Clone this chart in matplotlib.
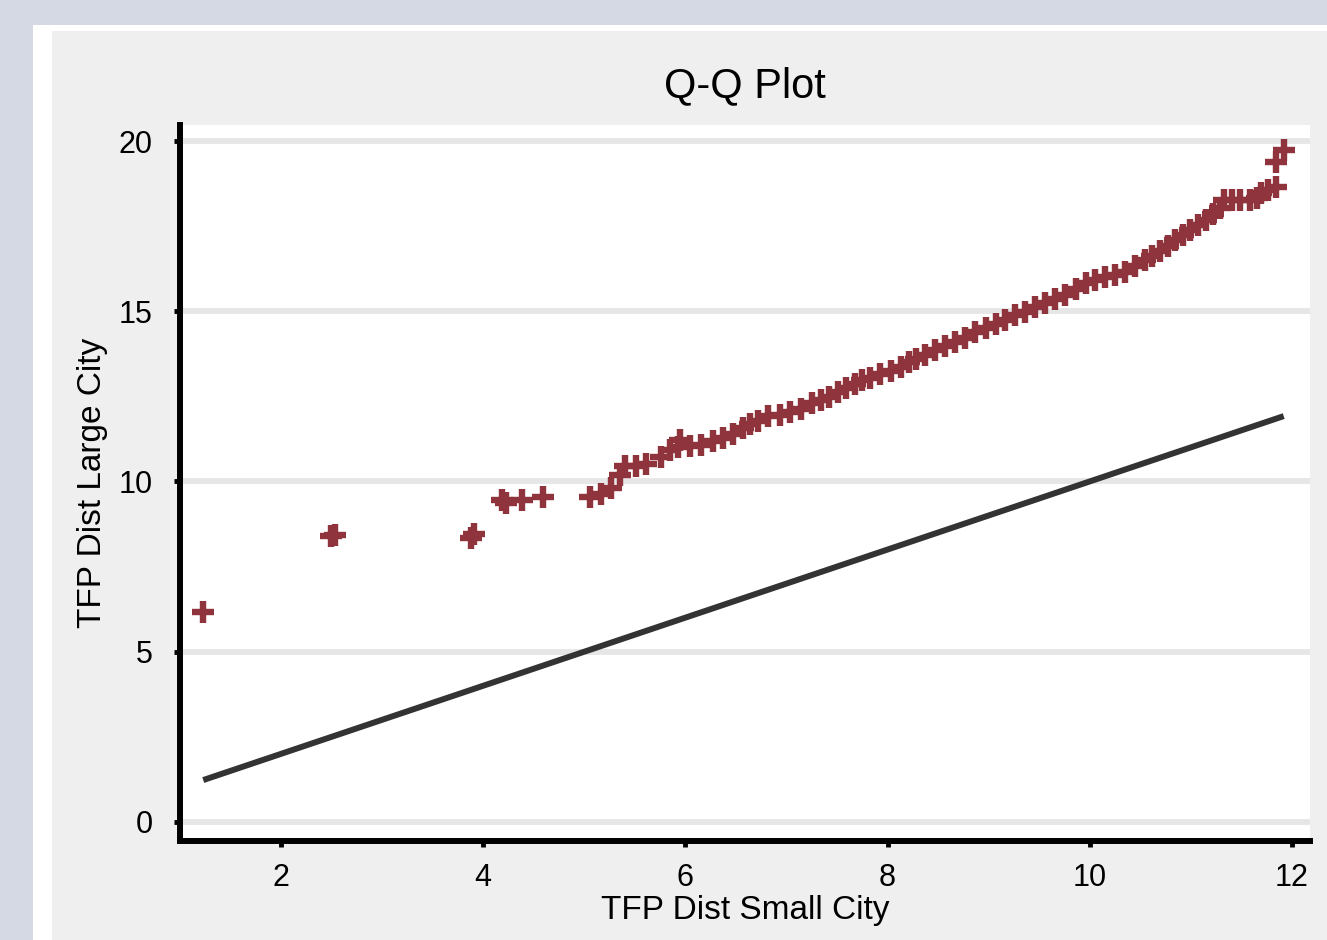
import numpy as np
import matplotlib.pyplot as plt
from matplotlib.patches import Rectangle

# Quantile pairs: TFP distribution of small cities (x) vs large cities (y)
small_city_q = np.array([
    1.23, 2.49, 2.53, 3.88, 3.91, 4.19, 4.23, 4.38, 4.59, 5.06,
    5.17, 5.26, 5.35, 5.40, 5.51, 5.61, 5.76, 5.85, 5.93, 5.95,
    6.05, 6.15, 6.27, 6.37, 6.47, 6.57, 6.64, 6.72, 6.82, 6.94,
    7.04, 7.14, 7.25, 7.34, 7.42, 7.51, 7.59, 7.68, 7.75, 7.83,
    7.93, 8.03, 8.13, 8.21, 8.28, 8.37, 8.47, 8.57, 8.67, 8.77,
    8.87, 8.97, 9.07, 9.16, 9.26, 9.36, 9.46, 9.56, 9.66, 9.76,
    9.86, 9.96, 10.05, 10.15, 10.25, 10.35, 10.45, 10.55, 10.62, 10.70,
    10.78, 10.84, 10.92, 10.99, 11.07, 11.15, 11.22, 11.29, 11.33, 11.41,
    11.49, 11.59, 11.66, 11.70, 11.76, 11.84, 11.84, 11.92,
])
large_city_q = np.array([
    6.17, 8.40, 8.43, 8.34, 8.46, 9.45, 9.37, 9.45, 9.54, 9.54,
    9.63, 9.81, 10.19, 10.45, 10.45, 10.50, 10.72, 10.92, 11.01, 11.22,
    11.04, 11.06, 11.19, 11.27, 11.39, 11.57, 11.69, 11.77, 11.92, 11.95,
    12.04, 12.13, 12.30, 12.39, 12.48, 12.62, 12.74, 12.86, 12.98, 13.04,
    13.15, 13.24, 13.36, 13.51, 13.59, 13.71, 13.86, 13.98, 14.09, 14.21,
    14.39, 14.50, 14.62, 14.74, 14.89, 14.97, 15.12, 15.24, 15.36, 15.47,
    15.65, 15.83, 15.91, 16.00, 16.06, 16.15, 16.32, 16.50, 16.62, 16.76,
    16.91, 17.09, 17.23, 17.38, 17.53, 17.67, 17.85, 18.03, 18.26, 18.26,
    18.26, 18.26, 18.32, 18.47, 18.56, 18.64, 19.38, 19.73,
])

x_ticks = [2, 4, 6, 8, 10, 12]
y_ticks = [0, 5, 10, 15, 20]

plt.rcParams['font.family'] = ['Liberation Sans', 'DejaVu Sans']

fig = plt.figure(figsize=(13.27, 9.40), dpi=100)
fig.patch.set_facecolor('#d5d9e3')

# white frame and grey panel behind the chart
fig.add_artist(Rectangle((33 / 1327, 0), 1, 1 - 25 / 940, transform=fig.transFigure,
                         facecolor='white', edgecolor='none', zorder=-2))
fig.add_artist(Rectangle((52 / 1327, 0), 1, 1 - 31 / 940, transform=fig.transFigure,
                         facecolor='#efefef', edgecolor='none', zorder=-1))

ax = fig.add_axes([180 / 1327, 1 - 841 / 940, 1130 / 1327, 716 / 940])
ax.set_facecolor('white')

ax.scatter(small_city_q, large_city_q, marker='+', s=240, linewidths=4.6,
           color='#8f343d', zorder=3)

# reference line y = x over the range of the data
lo, hi = small_city_q.min(), small_city_q.max()
ax.plot([lo, hi], [lo, hi], color='#333333', lw=4.3, solid_capstyle='butt', zorder=2)

ax.set_xlim(1.0, 12.18)
ax.set_ylim(-0.56, 20.47)
ax.set_xticks(x_ticks)
ax.set_yticks(y_ticks)

ax.grid(axis='y', color='#e6e6e6', lw=4.2)
ax.set_axisbelow(True)
for side in ['top', 'right']:
    ax.spines[side].set_visible(False)
for side in ['left', 'bottom']:
    ax.spines[side].set_linewidth(4.3)
    ax.spines[side].set_color('black')

ax.tick_params(axis='both', direction='out', length=4.5, width=3.5, labelsize=22,
               colors='black')
ax.tick_params(axis='x', pad=11)
ax.tick_params(axis='y', pad=15)

ax.set_title('Q-Q Plot', fontsize=30, pad=20)
ax.set_xlabel('TFP Dist Small City', fontsize=24, labelpad=2)
ax.set_ylabel('TFP Dist Large City', fontsize=24, labelpad=8)

fig.savefig('out.png', dpi=100, facecolor=fig.get_facecolor())
